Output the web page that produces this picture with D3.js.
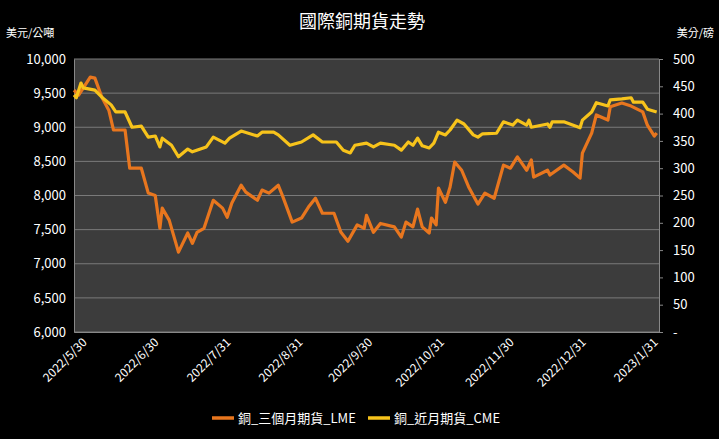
<!DOCTYPE html>
<html><head><meta charset="utf-8">
<script src="https://cdn.jsdelivr.net/npm/d3@7"></script>
<style>body{margin:0;background:#000}svg{display:block}text{font-family:"Noto Sans CJK TC","Noto Sans",sans-serif}</style>
</head><body><svg id="c" width="719" height="439"></svg>
<script>
const title="國際銅期貨走勢";
const leftLabel="美元/公噸", rightLabel="美分/磅";
const seriesNames=["銅_三個月期貨_LME","銅_近月期貨_CME"];
const xTickLabels=["2022/5/30","2022/6/30","2022/7/31","2022/8/31","2022/9/30","2022/10/31","2022/11/30","2022/12/31","2023/1/31"];
const leftTicks=[6000,6500,7000,7500,8000,8500,9000,9500,10000];
const rightTicks=[0,50,100,150,200,250,300,350,400,450,500];
const lmeDates=["2022/5/30","2022/6/1","2022/6/6","2022/6/8","2022/6/11","2022/6/14","2022/6/16","2022/6/21","2022/6/23","2022/6/28","2022/7/1","2022/7/4","2022/7/6","2022/7/7","2022/7/10","2022/7/14","2022/7/18","2022/7/20","2022/7/22","2022/7/25","2022/7/29","2022/8/2","2022/8/4","2022/8/6","2022/8/10","2022/8/12","2022/8/17","2022/8/19","2022/8/22","2022/8/26","2022/8/28","2022/9/1","2022/9/5","2022/9/8","2022/9/11","2022/9/14","2022/9/19","2022/9/22","2022/9/25","2022/9/29","2022/10/2","2022/10/3","2022/10/6","2022/10/9","2022/10/15","2022/10/18","2022/10/20","2022/10/23","2022/10/25","2022/10/27","2022/10/30","2022/10/31","2022/11/2","2022/11/3","2022/11/6","2022/11/8","2022/11/10","2022/11/13","2022/11/16","2022/11/20","2022/11/23","2022/11/27","2022/12/1","2022/12/4","2022/12/7","2022/12/11","2022/12/13","2022/12/14","2022/12/20","2022/12/21","2022/12/27","2022/12/31","2023/1/3","2023/1/4","2023/1/8","2023/1/10","2023/1/15","2023/1/16","2023/1/21","2023/1/25","2023/1/30","2023/2/1","2023/2/4","2023/2/5"];
const lmeValues=[9545,9470,9735,9720,9440,9250,8960,8960,8400,8400,8035,8000,7520,7815,7640,7170,7450,7300,7460,7520,7930,7815,7680,7890,8150,8050,7930,8080,8035,8150,7980,7610,7670,7830,7960,7740,7740,7460,7330,7570,7520,7710,7460,7590,7540,7390,7610,7540,7800,7540,7450,7670,7570,8110,7900,8125,8490,8370,8125,7875,8035,7960,8445,8400,8565,8370,8520,8270,8370,8300,8445,8345,8255,8620,8915,9180,9105,9300,9355,9310,9225,9030,8870,8915];
const cmeDates=["2022/5/30","2022/5/31","2022/6/2","2022/6/3","2022/6/8","2022/6/11","2022/6/15","2022/6/17","2022/6/21","2022/6/24","2022/6/28","2022/7/1","2022/7/4","2022/7/6","2022/7/7","2022/7/11","2022/7/14","2022/7/18","2022/7/20","2022/7/26","2022/7/29","2022/8/3","2022/8/5","2022/8/10","2022/8/17","2022/8/19","2022/8/24","2022/8/26","2022/8/31","2022/9/5","2022/9/10","2022/9/14","2022/9/20","2022/9/23","2022/9/26","2022/9/28","2022/10/3","2022/10/6","2022/10/9","2022/10/15","2022/10/18","2022/10/21","2022/10/23","2022/10/25","2022/10/27","2022/10/30","2022/11/1","2022/11/3","2022/11/6","2022/11/8","2022/11/11","2022/11/14","2022/11/18","2022/11/20","2022/11/22","2022/11/28","2022/12/1","2022/12/5","2022/12/7","2022/12/11","2022/12/12","2022/12/13","2022/12/20","2022/12/21","2022/12/22","2022/12/27","2023/1/3","2023/1/4","2023/1/8","2023/1/10","2023/1/15","2023/1/16","2023/1/21","2023/1/25","2023/1/26","2023/1/30","2023/2/1","2023/2/5"];
const cmeValues=[434,429,456,447,443,430,416,403,403,375,377,357,359,339,355,342,321,335,330,339,357,346,355,368,359,366,366,361,342,348,361,348,348,333,328,342,346,339,346,342,333,348,342,355,341,337,346,366,361,370,388,381,361,357,363,364,385,379,388,379,388,375,381,375,385,385,374,388,403,420,414,425,427,429,421,421,408,403];

const parse=d3.timeParse("%Y/%m/%d");
const svg=d3.select("#c");
svg.append("rect").attr("width",719).attr("height",439).attr("fill","#000");
const L=74,R=659,T=59,B=332;
svg.append("rect").attr("x",L).attr("y",T).attr("width",R-L).attr("height",B-T).attr("fill","#3c3c3c");
const x=d3.scaleTime().domain([parse("2022/5/30"),parse("2023/2/6")]).range([L,R]);
const yL=d3.scaleLinear().domain([6000,10000]).range([B,T]);
const yR=d3.scaleLinear().domain([0,500]).range([B,T]);

svg.append("g").selectAll("line").data(leftTicks).join("line")
 .attr("x1",L).attr("x2",R).attr("y1",d=>yL(d)).attr("y2",d=>yL(d)).attr("stroke","#7a7a7a").attr("stroke-width",1);

const gl=svg.append("g").attr("transform",`translate(${L},0)`).call(d3.axisLeft(yL).tickValues(leftTicks).tickFormat(d3.format(",")).tickSize(0).tickPadding(8));
gl.select(".domain").attr("stroke","#888");
gl.selectAll("text").attr("fill","#fff").style("font-size","13px");
const gr=svg.append("g").attr("transform",`translate(${R},0)`).call(d3.axisRight(yR).tickValues(rightTicks).tickFormat(d=>d===0?"-":d).tickSize(4).tickPadding(10));
gr.select(".domain").attr("stroke","#888");gr.selectAll("line").attr("stroke","#888");
gr.selectAll("text").attr("fill","#fff").style("font-size","13px");

const gx=svg.append("g").attr("transform",`translate(0,${B})`).call(d3.axisBottom(x).tickValues(xTickLabels.map(parse)).tickFormat(d3.timeFormat("%Y/%-m/%-d")).tickSize(0));
gx.select(".domain").attr("stroke","#888");
gx.selectAll("text").attr("fill","#fff").style("font-size","12px").attr("text-anchor","end")
 .attr("transform","translate(8,6) rotate(-45)").attr("dy","0.35em").attr("dx","0");

const lineL=d3.line().x((d,i)=>x(parse(lmeDates[i]))).y(d=>yL(d));
const lineR=d3.line().x((d,i)=>x(parse(cmeDates[i]))).y(d=>yR(d));
svg.append("path").datum(lmeValues).attr("d",lineL).attr("fill","none").attr("stroke","#e8761e").attr("stroke-width",3.2).attr("stroke-linejoin","round");
svg.append("path").datum(cmeValues).attr("d",lineR).attr("fill","none").attr("stroke","#f7c31b").attr("stroke-width",3.2).attr("stroke-linejoin","round");

svg.append("text").attr("x",362).attr("y",28).attr("text-anchor","middle").attr("fill","#fff").style("font-size","18px").text(title);
svg.append("text").attr("x",6).attr("y",37).attr("fill","#fff").style("font-size","11px").text(leftLabel);
svg.append("text").attr("x",714).attr("y",37).attr("text-anchor","end").attr("fill","#fff").style("font-size","11px").text(rightLabel);

const colors=["#e8761e","#f7c31b"], lx=[212,368];
seriesNames.forEach((n,i)=>{
 svg.append("line").attr("x1",lx[i]).attr("x2",lx[i]+22).attr("y1",418).attr("y2",418).attr("stroke",colors[i]).attr("stroke-width",3.5);
 svg.append("text").attr("x",lx[i]+26).attr("y",423).attr("fill","#fff").style("font-size","13px").text(n);
});
</script></body></html>
